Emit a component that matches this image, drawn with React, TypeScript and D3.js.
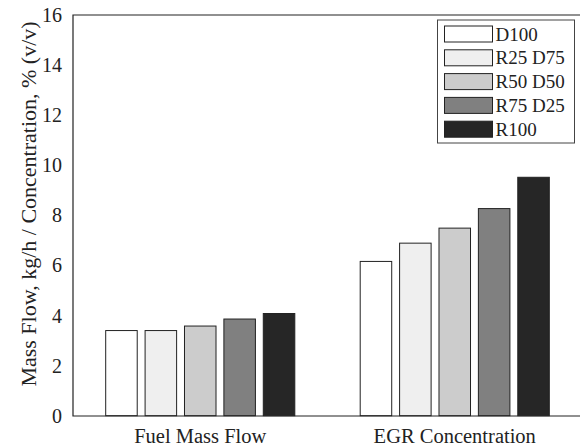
import React from 'react';
import * as d3 from 'd3';

const categories = ['Fuel Mass Flow', 'EGR Concentration'];
const seriesNames = ['D100', 'R25 D75', 'R50 D50', 'R75 D25', 'R100'];
const seriesColors = ['#ffffff', '#efefef', '#cccccc', '#808080', '#262626'];
// one row per series: [fuel mass flow, EGR concentration]
const values = [
  [3.40, 6.16],
  [3.40, 6.89],
  [3.58, 7.49],
  [3.86, 8.27],
  [4.08, 9.52],
];
const yTicks = [0, 2, 4, 6, 8, 10, 12, 14, 16];

const W = 580;
const H = 448;
const margin = { top: 15, right: -2, bottom: 32, left: 73 };
const font = '"Liberation Serif", "Times New Roman", serif';

const App = () => {
  const x0 = margin.left;
  const x1 = W - margin.right;
  const y0 = H - margin.bottom;
  const y1 = margin.top;

  const x = d3.scaleBand<string>().domain(categories).range([x0, x1]).padding(0);
  const y = d3.scaleLinear().domain([0, 16]).range([y0 - 0.3, y1]);
  const groupW = x.bandwidth() * 0.774;
  const inner = d3.scaleBand<string>().domain(seriesNames).range([0, groupW]).paddingInner(0.2).paddingOuter(0.1);

  const legendX = 437.5;
  const legendY = 20;
  const rowH = 23.8;

  return (
    <svg width={W} height={H} style={{ position: 'absolute', left: 0, top: 0 }}>
      <rect width={W} height={H} fill="#fff" />
      {seriesNames.map((s, si) =>
        categories.map((c, ci) => {
          const bx = (x(c) ?? 0) + (x.bandwidth() - groupW) / 2 + (inner(s) ?? 0);
          const v = values[si][ci];
          return (
            <rect
              key={s + c}
              x={bx}
              y={y(v)}
              width={inner.bandwidth()}
              height={y(0) - y(v)}
              fill={seriesColors[si]}
              stroke="#222"
              strokeWidth={1}
            />
          );
        })
      )}
      <path d={`M${x1 + 2},${y1}H${x0}V${y0}H${x1 + 2}`} fill="none" stroke="#222" strokeWidth={1.2} />
      {yTicks.map((t) => (
        <text key={t} x={62} y={y(t)} dy="0.35em" textAnchor="end" fontFamily={font} fontSize={20} fill="#222">
          {t}
        </text>
      ))}
      {categories.map((c) => (
        <text key={c} x={(x(c) ?? 0) + x.bandwidth() / 2} y={443} textAnchor="middle" fontFamily={font} fontSize={20.5} fill="#222">
          {c}
        </text>
      ))}
      <text
        transform={`translate(36,204) rotate(-90)`}
        textAnchor="middle"
        fontFamily={font}
        fontSize={22}
        fill="#222"
      >
        Mass Flow, kg/h / Concentration, % (v/v)
      </text>
      <rect x={legendX} y={legendY} width={137} height={123} fill="#fff" stroke="#444" strokeWidth={1} />
      {seriesNames.map((s, i) => (
        <g key={s} transform={`translate(${legendX + 7},${legendY + 6 + i * rowH})`}>
          <rect width={48} height={16} fill={seriesColors[i]} stroke="#222" strokeWidth={1} />
          <text x={51} y={8} dy="0.35em" fontFamily={font} fontSize={19} fill="#222">
            {s}
          </text>
        </g>
      ))}
    </svg>
  );
};

export default App;
